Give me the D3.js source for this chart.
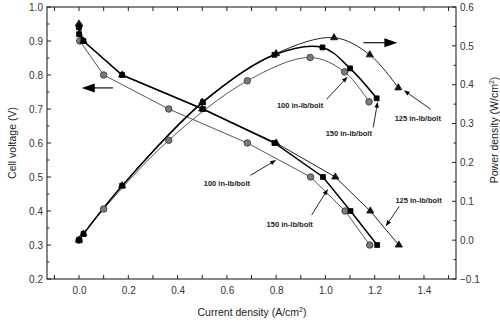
<!DOCTYPE html>
<html><head><meta charset="utf-8">
<script src="https://cdn.jsdelivr.net/npm/d3@7"></script>
<style>
body{margin:0;background:#fff;}
svg{display:block;font-family:"Liberation Sans",Arial,sans-serif;}
</style></head>
<body><svg id="c" width="500" height="322"></svg>
<script>
// ---- data ----
const seriesNames = ["100 in-lb/bolt", "125 in-lb/bolt", "150 in-lb/bolt"];
// polarization (current density A/cm2, cell voltage V)
const current100 = [0, 0.003, 0.10, 0.364, 0.683, 0.940, 1.080, 1.180];
const voltage100 = [0.945, 0.90, 0.80, 0.70, 0.60, 0.50, 0.40, 0.30];
const current125 = [0, 0.018, 0.175, 0.500, 0.800, 1.040, 1.182, 1.298];
const voltage125 = [0.950, 0.90, 0.80, 0.70, 0.60, 0.50, 0.40, 0.30];
const current150 = [0, 0, 0.018, 0.175, 0.503, 0.793, 0.990, 1.102, 1.210];
const voltage150 = [0.940, 0.920, 0.90, 0.80, 0.70, 0.60, 0.50, 0.40, 0.30];
// power density curves (current A/cm2, W/cm2)
const pCurrent100 = [0, 0.10, 0.364, 0.683, 0.938, 1.078, 1.177];
const power100    = [0, 0.080, 0.257, 0.410, 0.470, 0.433, 0.356];
const pCurrent125 = [0, 0.018, 0.175, 0.500, 0.800, 1.035, 1.180, 1.296];
const power125    = [0, 0.016, 0.140, 0.355, 0.480, 0.521, 0.477, 0.392];
const pCurrent150 = [0, 0.018, 0.175, 0.503, 0.793, 0.988, 1.100, 1.208];
const power150    = [0, 0.016, 0.140, 0.355, 0.477, 0.496, 0.442, 0.365];
const xTicks = [0.0, 0.2, 0.4, 0.6, 0.8, 1.0, 1.2, 1.4];
const yLeftTicks = [0.2, 0.3, 0.4, 0.5, 0.6, 0.7, 0.8, 0.9, 1.0];
const yRightTicks = [-0.1, 0.0, 0.1, 0.2, 0.3, 0.4, 0.5, 0.6];

// ---- layout ----
const svg = d3.select("#c");
const L = 47, R = 456, T = 7, B = 279;
const x = d3.scaleLinear().domain([-0.13, 1.53]).range([L, R]);
const yV = d3.scaleLinear().domain([0.2, 1.0]).range([B, T]);
const yP = d3.scaleLinear().domain([-0.1, 0.6]).range([B, T]);

const tickCol = "#222", labCol = "#333";
// frame
svg.append("rect").attr("x", L).attr("y", T).attr("width", R - L).attr("height", B - T)
  .attr("fill", "none").attr("stroke", "#111").attr("stroke-width", 1);

// axes
const fmt = d3.format(".1f");
const gB = svg.append("g").attr("transform", `translate(0,${B})`)
  .call(d3.axisBottom(x).tickValues(xTicks).tickFormat(fmt).tickSize(0).tickPadding(8));
const gL = svg.append("g").attr("transform", `translate(${L},0)`)
  .call(d3.axisLeft(yV).tickValues(yLeftTicks).tickFormat(fmt).tickSize(0).tickPadding(4));
const gR = svg.append("g").attr("transform", `translate(${R},0)`)
  .call(d3.axisRight(yP).tickValues(yRightTicks).tickFormat(fmt).tickSize(0).tickPadding(4));
[gB, gL, gR].forEach(g => {
  g.select(".domain").remove();
  g.selectAll("text").attr("font-size", 10).attr("fill", labCol).attr("font-family", "Liberation Sans, Arial, sans-serif");
});

// inward ticks
const minorX = d3.range(-0.1, 1.51, 0.1);
minorX.forEach(v => {
  const xi = x(v);
  svg.append("line").attr("x1", xi).attr("x2", xi).attr("y1", B).attr("y2", B - 4).attr("stroke", tickCol);
  svg.append("line").attr("x1", xi).attr("x2", xi).attr("y1", T).attr("y2", T + 4).attr("stroke", tickCol);
});
d3.range(0.2, 1.001, 0.05).forEach((v, i) => {
  const yi = yV(v), len = i % 2 === 0 ? 4 : 2.5;
  svg.append("line").attr("x1", L).attr("x2", L + len).attr("y1", yi).attr("y2", yi).attr("stroke", tickCol);
});
d3.range(-0.1, 0.601, 0.05).forEach((v, i) => {
  const yi = yP(v), len = i % 2 === 0 ? 4 : 2.5;
  svg.append("line").attr("x1", R).attr("x2", R - len).attr("y1", yi).attr("y2", yi).attr("stroke", tickCol);
});

// titles
svg.append("text").attr("x", 252).attr("y", 316).attr("text-anchor", "middle")
  .attr("font-size", 10.5).attr("fill", "#222")
  .call(t => { t.append("tspan").text("Current density (A/cm"); t.append("tspan").text("2").attr("font-size", 7).attr("dy", -4); t.append("tspan").text(")").attr("dy", 4); });
svg.append("text").attr("transform", "translate(16,143) rotate(-90)").attr("text-anchor", "middle")
  .attr("font-size", 10.5).attr("fill", "#222").text("Cell voltage (V)");
svg.append("text").attr("transform", "translate(498,130) rotate(-90)").attr("text-anchor", "middle")
  .attr("font-size", 10.5).attr("fill", "#222")
  .call(t => { t.append("tspan").text("Power density (W/cm"); t.append("tspan").text("2").attr("font-size", 7).attr("dy", -4); t.append("tspan").text(")").attr("dy", 4); });

// series styles
const styles = {
  "100 in-lb/bolt": {line: "#555", lw: 1, sym: d3.symbolCircle, size: 34, fill: "#7a7a7a", stroke: "#333"},
  "125 in-lb/bolt": {line: "#222", lw: 1, sym: d3.symbolTriangle, size: 22, fill: "#111", stroke: "#111"},
  "150 in-lb/bolt": {line: "#000", lw: 1.5, sym: d3.symbolSquare, size: 24, fill: "#000", stroke: "#000"}
};
const vData = {
  "100 in-lb/bolt": current100.map((c, i) => [c, voltage100[i]]),
  "125 in-lb/bolt": current125.map((c, i) => [c, voltage125[i]]),
  "150 in-lb/bolt": current150.map((c, i) => [c, voltage150[i]])
};
const pData = {
  "100 in-lb/bolt": pCurrent100.map((c, i) => [c, power100[i]]),
  "125 in-lb/bolt": pCurrent125.map((c, i) => [c, power125[i]]),
  "150 in-lb/bolt": pCurrent150.map((c, i) => [c, power150[i]])
};
const lineV = d3.line().x(d => x(d[0])).y(d => yV(d[1]));
const lineP = d3.line().x(d => x(d[0])).y(d => yP(d[1])).curve(d3.curveCatmullRom.alpha(0.5));

seriesNames.forEach(n => {
  const s = styles[n];
  svg.append("path").datum(vData[n]).attr("d", lineV).attr("fill", "none").attr("stroke", s.line).attr("stroke-width", s.lw);
  svg.append("path").datum(pData[n]).attr("d", lineP).attr("fill", "none").attr("stroke", s.line).attr("stroke-width", s.lw);
});
seriesNames.forEach(n => {
  const s = styles[n];
  const sym = d3.symbol().type(s.sym).size(s.size);
  [[vData[n], yV], [pData[n], yP]].forEach(([data, ys]) => {
    svg.append("g").selectAll("path").data(data).join("path")
      .attr("transform", d => `translate(${x(d[0])},${ys(d[1])})`)
      .attr("d", sym).attr("fill", s.fill).attr("stroke", s.stroke).attr("stroke-width", 0.8);
  });
});

// big direction arrows (in voltage-axis data units)
function bigArrow(x1, x2, v) {
  const y = yV(v), a = x(x1), b = x(x2), dir = Math.sign(b - a);
  svg.append("line").attr("x1", a).attr("x2", b - dir * 10).attr("y1", y).attr("y2", y).attr("stroke", "#111").attr("stroke-width", 1.2);
  svg.append("path").attr("d", `M${b},${y} L${b - dir * 13},${y - 4.5} L${b - dir * 13},${y + 4.5} Z`).attr("fill", "#000");
}
bigArrow(0.138, 0.011, 0.762);
bigArrow(1.154, 1.292, 0.895);

// labelled pointers (positions in data units on the voltage axis)
const notes = [
  {t: "100 in-lb/bolt", tx: 0.897, tv: 0.712, x1: 1.005, v1: 0.7285, x2: 1.090, v2: 0.795},
  {t: "150 in-lb/bolt", tx: 1.095, tv: 0.629, x1: 1.194, v1: 0.646, x2: 1.212, v2: 0.7215},
  {t: "125 in-lb/bolt", tx: 1.375, tv: 0.674, x1: 1.428, v1: 0.699, x2: 1.318, v2: 0.755},
  {t: "100 in-lb/bolt", tx: 0.60, tv: 0.482, x1: 0.696, v1: 0.505, x2: 0.800, v2: 0.550},
  {t: "150 in-lb/bolt", tx: 0.855, tv: 0.363, x1: 0.944, v1: 0.388, x2: 1.010, v2: 0.465},
  {t: "125 in-lb/bolt", tx: 1.378, tv: 0.432, x1: 1.300, v1: 0.414, x2: 1.245, v2: 0.355}
];
notes.forEach(n => {
  svg.append("text").attr("x", x(n.tx)).attr("y", yV(n.tv) + 3).attr("text-anchor", "middle")
    .attr("font-size", 7.5).attr("font-weight", "bold").attr("fill", "#222").text(n.t);
  const ax = x(n.x1), ay = yV(n.v1), bx = x(n.x2), by = yV(n.v2);
  const ang = Math.atan2(by - ay, bx - ax), hl = 6, hw = 2.2;
  const cx = bx - hl * Math.cos(ang), cy = by - hl * Math.sin(ang);
  svg.append("line").attr("x1", ax).attr("y1", ay).attr("x2", cx).attr("y2", cy).attr("stroke", "#111").attr("stroke-width", 0.9);
  svg.append("path").attr("d", `M${bx},${by} L${cx - hw * Math.sin(ang)},${cy + hw * Math.cos(ang)} L${cx + hw * Math.sin(ang)},${cy - hw * Math.cos(ang)} Z`).attr("fill", "#000");
});
</script></body></html>
